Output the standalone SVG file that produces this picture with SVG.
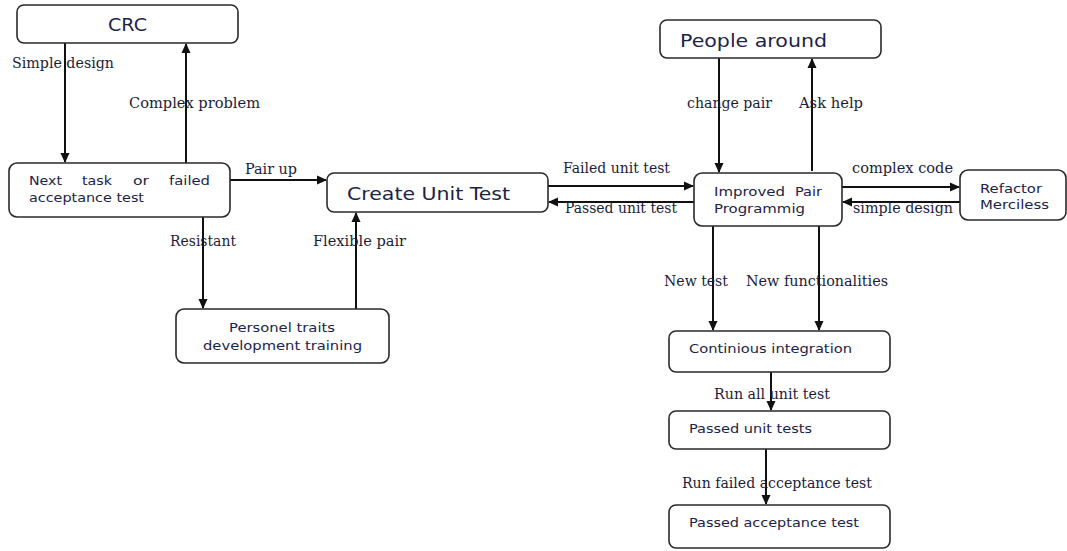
<svg xmlns="http://www.w3.org/2000/svg" width="1067" height="551" viewBox="0 0 1067 551">
<style>
.box{fill:#fff;stroke:#2a2a2a;stroke-width:1.6}
.t{font-family:"DejaVu Sans","Open Sans",sans-serif;fill:#1c2348}
.s{font-size:13px}
.b{font-size:17.5px}
.l{font-family:"DejaVu Serif","Liberation Serif",serif;font-size:14px;fill:#1c1c3a}
.c{stroke:#111;stroke-width:2;fill:none;marker-end:url(#ah)}
</style>
<defs>
<marker id="ah" markerWidth="10" markerHeight="10" refX="9" refY="5" orient="auto" markerUnits="userSpaceOnUse">
<path d="M0,0.5 L10,5 L0,9.5 Z" fill="#111"/>
</marker>
</defs>
<rect width="1067" height="551" fill="#fff"/>
<g id="connectors">
<line class="c" x1="65" y1="43" x2="65" y2="162"/>
<line class="c" x1="186" y1="163" x2="186" y2="44"/>
<line class="c" x1="230" y1="180" x2="326" y2="180"/>
<line class="c" x1="203" y1="217" x2="203" y2="308"/>
<line class="c" x1="356" y1="309" x2="356" y2="213"/>
<line class="c" x1="548" y1="186" x2="693" y2="186"/>
<line class="c" x1="694" y1="202" x2="549" y2="202"/>
<line class="c" x1="719" y1="58" x2="719" y2="172"/>
<line class="c" x1="812" y1="171" x2="812" y2="59"/>
<line class="c" x1="842" y1="187" x2="959" y2="187"/>
<line class="c" x1="960" y1="202" x2="843" y2="202"/>
<line class="c" x1="713" y1="226" x2="713" y2="330"/>
<line class="c" x1="819" y1="226" x2="819" y2="330"/>
<line class="c" x1="771" y1="372" x2="771" y2="410"/>
<line class="c" x1="766" y1="449" x2="766" y2="504"/>
<text class="l" x="12" y="68" textLength="102" lengthAdjust="spacingAndGlyphs">Simple design</text>
<text class="l" x="129" y="108" textLength="131" lengthAdjust="spacingAndGlyphs">Complex problem</text>
<text class="l" x="245" y="174" textLength="52" lengthAdjust="spacingAndGlyphs">Pair up</text>
<text class="l" x="170" y="246" textLength="66" lengthAdjust="spacingAndGlyphs">Resistant</text>
<text class="l" x="313" y="246" textLength="93" lengthAdjust="spacingAndGlyphs">Flexible pair</text>
<text class="l" x="563" y="173" textLength="107" lengthAdjust="spacingAndGlyphs">Failed unit test</text>
<text class="l" x="565" y="213" textLength="112" lengthAdjust="spacingAndGlyphs">Passed unit test</text>
<text class="l" x="687" y="108" textLength="85" lengthAdjust="spacingAndGlyphs">change pair</text>
<text class="l" x="799" y="108" textLength="64" lengthAdjust="spacingAndGlyphs">Ask help</text>
<text class="l" x="852" y="173" textLength="101" lengthAdjust="spacingAndGlyphs">complex code</text>
<text class="l" x="853" y="213" textLength="100" lengthAdjust="spacingAndGlyphs">simple design</text>
<text class="l" x="664" y="286" textLength="64" lengthAdjust="spacingAndGlyphs">New test</text>
<text class="l" x="746" y="286" textLength="142" lengthAdjust="spacingAndGlyphs">New functionalities</text>
<text class="l" x="714" y="399" textLength="116" lengthAdjust="spacingAndGlyphs">Run all unit test</text>
<text class="l" x="682" y="488" textLength="190" lengthAdjust="spacingAndGlyphs">Run failed acceptance test</text>
</g>
<g id="crc">
<rect class="box" x="17" y="5" width="221" height="38" rx="7"/>
<text class="t b" x="108" y="31" textLength="39" lengthAdjust="spacingAndGlyphs">CRC</text>
</g>
<g id="next-task">
<rect class="box" x="9" y="163" width="221" height="54" rx="8"/>
<text class="t s" x="29" y="185" textLength="33" lengthAdjust="spacingAndGlyphs">Next</text>
<text class="t s" x="82" y="185" textLength="30" lengthAdjust="spacingAndGlyphs">task</text>
<text class="t s" x="133" y="185" textLength="16" lengthAdjust="spacingAndGlyphs">or</text>
<text class="t s" x="169" y="185" textLength="41" lengthAdjust="spacingAndGlyphs">failed</text>
<text class="t s" x="29" y="202" textLength="115" lengthAdjust="spacingAndGlyphs">acceptance test</text>
</g>
<g id="create-unit-test">
<rect class="box" x="327" y="173" width="221" height="39" rx="7"/>
<text class="t" x="347" y="200" font-size="18.5px" textLength="163" lengthAdjust="spacingAndGlyphs">Create Unit Test</text>
</g>
<g id="personel">
<rect class="box" x="176" y="309" width="213" height="54" rx="8"/>
<text class="t s" x="229" y="332" textLength="106" lengthAdjust="spacingAndGlyphs">Personel traits</text>
<text class="t s" x="203" y="350" textLength="159" lengthAdjust="spacingAndGlyphs">development training</text>
</g>
<g id="people-around">
<rect class="box" x="660" y="20" width="221" height="38" rx="7"/>
<text class="t b" x="680" y="47" textLength="147" lengthAdjust="spacingAndGlyphs">People around</text>
</g>
<g id="improved-pair">
<rect class="box" x="694" y="173" width="148" height="53" rx="8"/>
<text class="t s" x="714" y="196" textLength="71" lengthAdjust="spacingAndGlyphs">Improved</text>
<text class="t s" x="795" y="196" textLength="27" lengthAdjust="spacingAndGlyphs">Pair</text>
<text class="t s" x="714" y="213" textLength="91" lengthAdjust="spacingAndGlyphs">Programmig</text>
</g>
<g id="refactor">
<rect class="box" x="960" y="170" width="106" height="50" rx="8"/>
<text class="t s" x="980" y="193" textLength="62" lengthAdjust="spacingAndGlyphs">Refactor</text>
<text class="t s" x="980" y="209" textLength="69" lengthAdjust="spacingAndGlyphs">Merciless</text>
</g>
<g id="continious-integration">
<rect class="box" x="669" y="331" width="221" height="41" rx="7"/>
<text class="t s" x="689" y="353" textLength="163" lengthAdjust="spacingAndGlyphs">Continious integration</text>
</g>
<g id="passed-unit-tests">
<rect class="box" x="669" y="411" width="221" height="38" rx="7"/>
<text class="t s" x="689" y="433" textLength="123" lengthAdjust="spacingAndGlyphs">Passed unit tests</text>
</g>
<g id="passed-acceptance-test">
<rect class="box" x="669" y="505" width="221" height="43" rx="7"/>
<text class="t s" x="689" y="527" textLength="170" lengthAdjust="spacingAndGlyphs">Passed acceptance test</text>
</g>
</svg>
